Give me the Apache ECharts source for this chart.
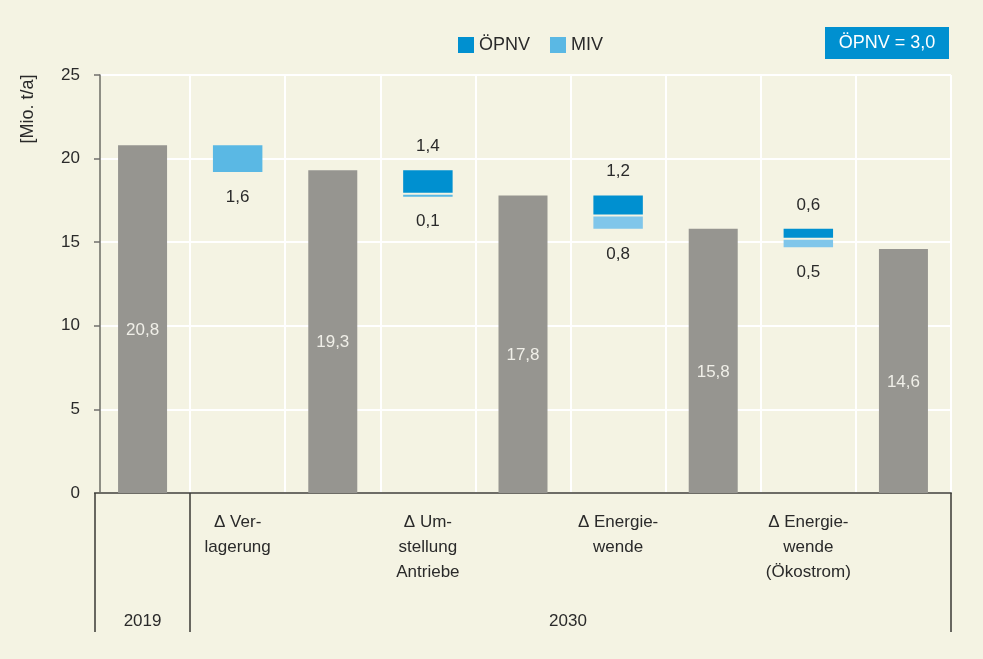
<!DOCTYPE html>
<html>
<head>
<meta charset="utf-8">
<script src="https://cdn.jsdelivr.net/npm/echarts@6/dist/echarts.min.js"></script>
<style>
  html, body { margin: 0; padding: 0; background: #f4f3e3; }
  #chartBox { width: 983px; height: 659px; }
</style>
</head>
<body>
<div id="chartBox"></div>
<script>
// Kategorien (Balken und Δ-Schritte)
const categories = ['', 'Δ Ver-\nlagerung', '', 'Δ Um-\nstellung\nAntriebe', '', 'Δ Energie-\nwende', '', 'Δ Energie-\nwende\n(Ökostrom)', ''];
const periodLabels = ['2019', '', '', '', '2030', '', '', '', ''];
const yTicks = [0, 5, 10, 15, 20, 25];
// Emissionen in Mio. t/a
const totals = [20.8, null, 19.3, null, 17.8, null, 15.8, null, 14.6];
const opnv = [null, 0, null, 1.4, null, 1.2, null, 0.6, null];
const miv = [null, 1.6, null, 0.1, null, 0.8, null, 0.5, null];
const boxText = 'ÖPNV = 3,0';

const fmt = v => String(v).replace('.', ',');
const font = 'Liberation Sans, Arial, sans-serif';

// Basis der Δ-Schritte: vorheriger Balken minus beide Anteile
const mivData = [];
const opnvData = [];
categories.forEach((c, i) => {
    if (totals[i] == null && miv[i] != null) {
        const base = totals[i - 1] - opnv[i] - miv[i];
        mivData.push([i, base, miv[i], opnv[i]]);
        opnvData.push([i, base + miv[i], opnv[i]]);
    }
});

const chartDom = document.getElementById('chartBox');
const myChart = echarts.init(chartDom);

function renderMiv(params, api) {
    const i = api.value(0), lo = api.value(1), v = api.value(2), other = api.value(3);
    const w = api.size([1, 0])[0] * 0.52;
    const p0 = api.coord([i, lo]);
    const p1 = api.coord([i, lo + v]);
    const top = p1[1] + (other > 0 ? 1 : 0);
    const h = Math.max(p0[1] - top, 2);
    const color = i >= 5 ? '#80c6ea' : '#5ab8e4';
    return {
        type: 'group',
        children: [
            { type: 'rect', shape: { x: p0[0] - w / 2, y: top, width: w, height: h }, style: { fill: color } },
            { type: 'text', x: p0[0], y: top + h + 25, style: { text: fmt(v), font: '17px ' + font, fill: '#2a2a2a', align: 'center', verticalAlign: 'middle' } }
        ]
    };
}

function renderOpnv(params, api) {
    const i = api.value(0), lo = api.value(1), v = api.value(2);
    if (!v) return null;
    const w = api.size([1, 0])[0] * 0.52;
    const p0 = api.coord([i, lo]);
    const p1 = api.coord([i, lo + v]);
    const bottom = p0[1] - 1;
    return {
        type: 'group',
        children: [
            { type: 'rect', shape: { x: p0[0] - w / 2, y: p1[1], width: w, height: bottom - p1[1] }, style: { fill: '#0090d0' } },
            { type: 'text', x: p0[0], y: p1[1] - 24, style: { text: fmt(v), font: '17px ' + font, fill: '#2a2a2a', align: 'center', verticalAlign: 'middle' } }
        ]
    };
}

const option = {
    backgroundColor: '#f4f3e3',
    textStyle: { fontFamily: font },
    animation: false,
    grid: { left: 95, right: 32, top: 75, bottom: 166 },
    legend: {
        left: 453,
        top: 31,
        itemWidth: 16,
        itemHeight: 16,
        itemGap: 20,
        textStyle: { fontSize: 18, color: '#2a2a2a', fontFamily: font },
        data: [{ name: 'ÖPNV', icon: 'rect' }, { name: 'MIV', icon: 'rect' }]
    },
    graphic: [
        {
            type: 'text', x: 28, y: 109, rotation: Math.PI / 2,
            style: { text: '[Mio. t/a]', font: '18px ' + font, fill: '#2a2a2a', align: 'center', verticalAlign: 'middle' }
        },
        { type: 'rect', shape: { x: 825, y: 27, width: 124, height: 32 }, style: { fill: '#0090d0' } },
        {
            type: 'text', x: 887, y: 43,
            style: { text: boxText, font: '18px ' + font, fill: '#ffffff', align: 'center', verticalAlign: 'middle' }
        }
    ],
    xAxis: [
        {
            type: 'category',
            data: categories,
            axisLine: { lineStyle: { color: '#6d6c66', width: 2 } },
            axisTick: { show: false },
            axisLabel: { interval: 0, fontSize: 17, lineHeight: 25, margin: 17, color: '#2a2a2a' },
            splitLine: { show: true, interval: (i) => i > 0, lineStyle: { color: '#ffffff', width: 2 } }
        },
        {
            type: 'category',
            position: 'bottom',
            data: periodLabels.map((p, i) => i === 4 ? { value: p, textStyle: { padding: [0, 0, 0, 90] } } : p),
            axisLine: { show: false },
            axisTick: {
                show: true,
                length: 139,
                interval: (i) => i <= 1,
                lineStyle: { color: '#3a3a36', width: 1.5 }
            },
            axisLabel: { interval: 0, fontSize: 17, lineHeight: 25, margin: 116, color: '#2a2a2a' },
            splitLine: { show: false }
        }
    ],
    yAxis: {
        type: 'value',
        min: yTicks[0],
        max: yTicks[yTicks.length - 1],
        interval: 5,
        offset: -5,
        axisLine: { show: true, lineStyle: { color: '#6d6c66', width: 1.5 } },
        axisTick: { show: true, length: 6, lineStyle: { color: '#6d6c66', width: 1.5 } },
        axisLabel: { fontSize: 17, color: '#2a2a2a', margin: 20 },
        splitLine: { show: true, lineStyle: { color: '#ffffff', width: 2 } }
    },
    series: [
        {
            name: 'Gesamt',
            type: 'bar',
            barWidth: 49,
            data: totals,
            itemStyle: { color: '#969590' },
            label: {
                show: true,
                position: 'inside',
                offset: [0, 11],
                fontSize: 17,
                color: '#f0efe8',
                formatter: p => fmt(p.value)
            }
        },
        {
            name: 'MIV',
            type: 'custom',
            renderItem: renderMiv,
            itemStyle: { color: '#5ab8e4' },
            encode: { x: 0, y: [1, 2] },
            data: mivData
        },
        {
            name: 'ÖPNV',
            type: 'custom',
            renderItem: renderOpnv,
            itemStyle: { color: '#0090d0' },
            encode: { x: 0, y: [1, 2] },
            data: opnvData
        }
    ]
};
myChart.setOption(option);
</script>
</body>
</html>
